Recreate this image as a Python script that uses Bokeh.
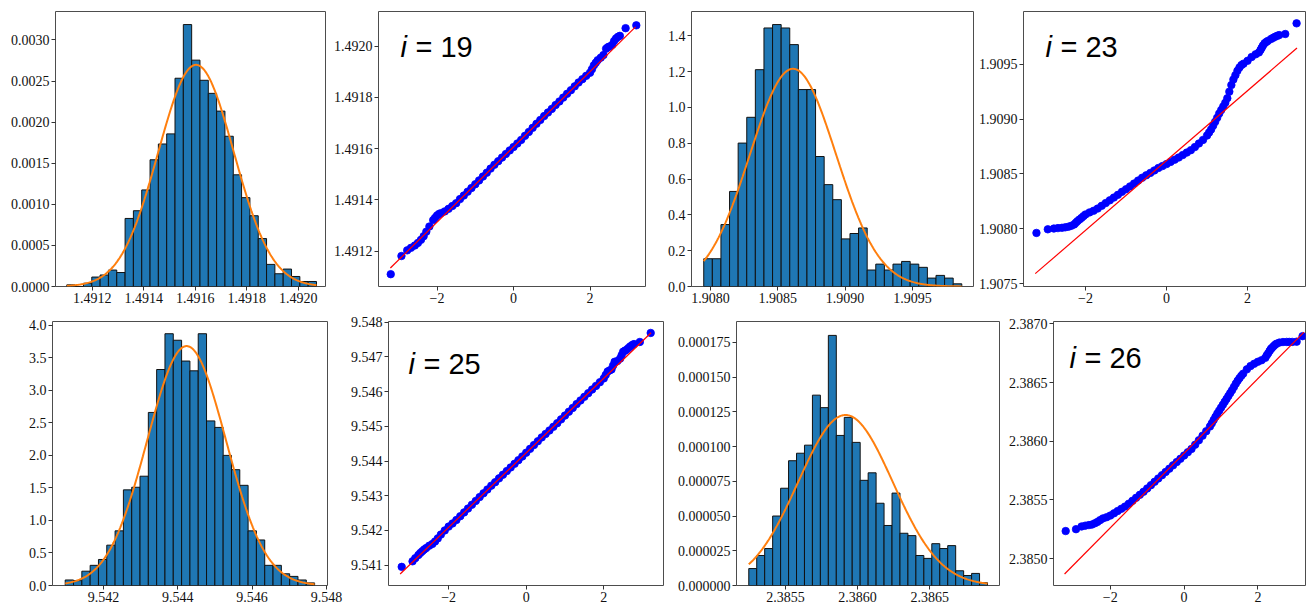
import numpy as np
from bokeh.plotting import figure
from bokeh.layouts import column, row
from bokeh.models import Range1d, FixedTicker, NumeralTickFormatter, Label, ColumnDataSource
from bokeh.embed import file_html
from bokeh.resources import INLINE

# ---------------- data ----------------
# theoretical normal quantiles (x of every Q-Q panel)
theoretical_q = [-3.21, -2.93, -2.78, -2.68, -2.58, -2.50, -2.42, -2.35, -2.28, -2.20, -2.10,
                 -2.0, -1.9, -1.8, -1.7, -1.6, -1.5, -1.4, -1.3, -1.2, -1.1, -1.0,
                 -0.9, -0.8, -0.7, -0.6, -0.5, -0.4, -0.3, -0.2, -0.1, 0.0,
                 0.1, 0.2, 0.3, 0.4, 0.5, 0.6, 0.7, 0.8, 0.9, 1.0,
                 1.1, 1.2, 1.3, 1.4, 1.5, 1.6, 1.7, 1.8, 1.9, 2.0,
                 2.10, 2.20, 2.28, 2.35, 2.42, 2.50, 2.58, 2.68, 2.78, 2.93, 3.21]

# ---- i = 19 ----
hist19_range = [1.491101, 1.492071]
hist19_heights = [0.000020, 0.0, 0.000040, 0.000115, 0.000140, 0.000200, 0.000170, 0.000828,
                  0.000922, 0.001175, 0.001542, 0.001734, 0.001857, 0.002534, 0.003187, 0.002754,
                  0.002509, 0.002350, 0.002134, 0.001828, 0.001359, 0.001081, 0.000861, 0.000583,
                  0.000269, 0.000155, 0.000212, 0.000122, 0.000061, 0.000061]
fit19 = {"mu": 1.491603, "sigma": 0.0001467, "peak": 0.002697}
qq19_sample = [1.491110, 1.491181, 1.491203, 1.491213, 1.491222, 1.491232, 1.491244, 1.491258,
               1.491276, 1.491296, 1.491321,
               1.491339, 1.491348, 1.491355, 1.491365, 1.491376, 1.491387, 1.491403, 1.491417,
               1.491432, 1.491446, 1.491461, 1.491476, 1.491491, 1.491506, 1.491522, 1.491537,
               1.491551, 1.491565, 1.491579, 1.491593, 1.491606, 1.491620, 1.491634, 1.491650,
               1.491665, 1.491681, 1.491697, 1.491712, 1.491727, 1.491741, 1.491755, 1.491770,
               1.491784, 1.491799, 1.491814, 1.491828, 1.491843, 1.491858, 1.491871, 1.491884,
               1.491896,
               1.491925, 1.491945, 1.491955, 1.491965, 1.491990, 1.491998, 1.492005, 1.492030,
               1.492040, 1.492070, 1.492081]
qq19_extra_q = [-2.05, -1.95, 2.05, 2.15, 2.46, 2.63, 2.73]
qq19_extra_y = [1.491330, 1.491345, 1.491910, 1.491935, 1.491995, 1.492020, 1.492036]
qq19_line_q = [-3.22, 3.19]
qq19_line_y = [1.491134, 1.492075]

# ---- i = 23 ----
hist23_range = [1.907950, 1.909867]
hist23_heights = [0.155, 0.155, 0.346, 0.531, 0.801, 0.945, 1.211, 1.444, 1.463, 1.444,
                  1.351, 1.100, 1.100, 0.726, 0.569, 0.485, 0.266, 0.296, 0.327, 0.092,
                  0.125, 0.092, 0.125, 0.140, 0.125, 0.107, 0.047, 0.062, 0.047, 0.015]
fit23 = {"mu": 1.908613, "sigma": 0.000320, "peak": 1.216}
qq23_sample = [1.907963, 1.907996, 1.908003, 1.908007, 1.908010, 1.908014, 1.908020, 1.908028,
               1.908040, 1.908070, 1.908100,
               1.908131, 1.908150, 1.908165, 1.908185, 1.908210, 1.908235, 1.908260, 1.908285,
               1.908310, 1.908337, 1.908361, 1.908387, 1.908413, 1.908440, 1.908466, 1.908488,
               1.908510, 1.908532, 1.908555, 1.908572, 1.908590, 1.908610, 1.908630, 1.908650,
               1.908672, 1.908695, 1.908717, 1.908745, 1.908778, 1.908810, 1.908850, 1.908905,
               1.908975, 1.909050, 1.909115, 1.909190, 1.909310, 1.909400, 1.909470, 1.909505,
               1.909531,
               1.909565, 1.909590, 1.909607, 1.909650, 1.909690, 1.909712, 1.909730, 1.909750,
               1.909765, 1.909775, 1.909872]
qq23_extra_q = [-2.24, -2.15, -2.05, 1.05, 1.15, 1.25, 1.35, 1.45, 1.55, 1.65, 1.75, 1.85,
                2.32, 2.38, 2.46, 2.63, 2.73]
qq23_extra_y = [1.908055, 1.908085, 1.908116, 1.908877, 1.908940, 1.909012, 1.909083, 1.909148,
                1.909250, 1.909360, 1.909440, 1.909492, 1.909630, 1.909670, 1.909702, 1.909740,
                1.909758]
qq23_line_q = [-3.24, 3.22]
qq23_line_y = [1.907592, 1.909647]

# ---- i = 25 ----
hist25_range = [9.540972, 9.547683]
hist25_heights = [0.085, 0.075, 0.22, 0.31, 0.40, 0.62, 0.84, 1.47, 1.51, 1.68,
                  2.66, 3.32, 3.87, 3.77, 3.45, 3.30, 3.87, 2.53, 2.43, 2.00,
                  1.78, 1.54, 0.84, 0.70, 0.31, 0.31, 0.18, 0.14, 0.085, 0.04]
fit25 = {"mu": 9.544239, "sigma": 0.00106, "peak": 3.68}
qq25_sample = [9.540950, 9.541110, 9.541290, 9.541400, 9.541490, 9.541560, 9.541610, 9.541680,
               9.541770, 9.541880, 9.542000,
               9.542110, 9.542200, 9.542300, 9.542410, 9.542520, 9.542630, 9.542740, 9.542850,
               9.542960, 9.543070, 9.543180, 9.543290, 9.543390, 9.543500, 9.543605, 9.543710,
               9.543815, 9.543920, 9.544025, 9.544130, 9.544240, 9.544350, 9.544460, 9.544570,
               9.544680, 9.544780, 9.544880, 9.544985, 9.545090, 9.545200, 9.545310, 9.545420,
               9.545530, 9.545640, 9.545745, 9.545850, 9.545955, 9.546060, 9.546165, 9.546270,
               9.546380,
               9.546580, 9.546640, 9.546860, 9.546880, 9.546950, 9.547150, 9.547200, 9.547300,
               9.547370, 9.547430, 9.547690]
qq25_extra_q = [-2.86, -2.73, -2.63, 2.05, 2.15, 2.24, 2.46, 2.54, 2.63, 2.73]
qq25_extra_y = [9.541200, 9.541350, 9.541450, 9.546480, 9.546610, 9.546750, 9.547050, 9.547175,
                9.547250, 9.547340]
qq25_line_q = [-3.25, 3.22]
qq25_line_y = [9.540745, 9.547695]

# ---- i = 26 ----
hist26_range = [2.385246, 2.386900]
hist26_heights = [0.0000122, 0.0000216, 0.0000266, 0.0000500, 0.0000700, 0.0000898, 0.0000952,
                  0.0001010, 0.0001370, 0.0001280, 0.0001800, 0.0001080, 0.0001210, 0.0001030,
                  0.0000757, 0.0000811, 0.0000592, 0.0000432, 0.0000665, 0.0000376, 0.0000359,
                  0.0000216, 0.0000195, 0.0000301, 0.0000266, 0.0000287, 0.0000106, 0.0000072,
                  0.0000087, 0.0000020]
fit26 = {"mu": 2.385916, "sigma": 0.000328, "peak": 0.0001227}
qq26_sample = [2.385234, 2.385250, 2.385273, 2.385280, 2.385285, 2.385289, 2.385300, 2.385312,
               2.385327, 2.385342, 2.385352,
               2.385366, 2.385385, 2.385405, 2.385424, 2.385443, 2.385467, 2.385492, 2.385518,
               2.385543, 2.385569, 2.385597, 2.385625, 2.385654, 2.385682, 2.385710, 2.385738,
               2.385766, 2.385794, 2.385822, 2.385850, 2.385878, 2.385906, 2.385934, 2.385970,
               2.386008, 2.386047, 2.386085, 2.386125, 2.386180, 2.386235, 2.386285, 2.386335,
               2.386385, 2.386435, 2.386490, 2.386537, 2.386575, 2.386612, 2.386640, 2.386660,
               2.386677,
               2.386690, 2.386710, 2.386750, 2.386785, 2.386808, 2.386830, 2.386840, 2.386845,
               2.386846, 2.386846, 2.386895]
qq26_extra_q = [0.75, 0.85, 0.95, 1.05, 1.15, 1.25, 1.35, 1.45, 1.55, 2.24, 2.32, 2.38, 2.46,
                2.85, 3.05]
qq26_extra_y = [2.386152, 2.386208, 2.386260, 2.386310, 2.386360, 2.386410, 2.386462, 2.386515,
                2.386557, 2.386732, 2.386770, 2.386795, 2.386820, 2.386846, 2.386848]
qq26_line_q = [-3.24, 3.25]
qq26_line_y = [2.384868, 2.386930]

# tick values / labels
qq_xticks = [-2.0, 0.0, 2.0]
qq_xlabels = ["\u22122", "0", "2"]
h19_xticks = [1.4912, 1.4914, 1.4916, 1.4918, 1.4920]
h19_yticks = [0.0, 0.0005, 0.0010, 0.0015, 0.0020, 0.0025, 0.0030]
q19_yticks = [1.4912, 1.4914, 1.4916, 1.4918, 1.4920]
h23_xticks = [1.9080, 1.9085, 1.9090, 1.9095]
h23_yticks = [0.0, 0.2, 0.4, 0.6, 0.8, 1.0, 1.2, 1.4]
q23_yticks = [1.9075, 1.9080, 1.9085, 1.9090, 1.9095]
h25_xticks = [9.542, 9.544, 9.546, 9.548]
h25_yticks = [0.0, 0.5, 1.0, 1.5, 2.0, 2.5, 3.0, 3.5, 4.0]
q25_yticks = [9.541, 9.542, 9.543, 9.544, 9.545, 9.546, 9.547, 9.548]
h26_xticks = [2.3855, 2.3860, 2.3865]
h26_yticks = [0.0, 0.000025, 0.000050, 0.000075, 0.000100, 0.000125, 0.000150, 0.000175]
q26_yticks = [2.3850, 2.3855, 2.3860, 2.3865, 2.3870]

SERIF = "Liberation Serif"


def make_panel(xr, yr, dims):
    fw, fh, bl, br, bt, bb = dims
    p = figure(frame_width=fw, frame_height=fh,
               x_range=Range1d(xr[0], xr[1]), y_range=Range1d(yr[0], yr[1]),
               min_border_left=bl, min_border_right=br, min_border_top=bt, min_border_bottom=bb,
               output_backend="svg", toolbar_location=None, tools="")
    p.xgrid.visible = False
    p.ygrid.visible = False
    p.outline_line_color = "#4d4d4d"
    p.outline_line_width = 1
    p.outline_line_alpha = 1.0
    for ax in (p.xaxis[0], p.yaxis[0]):
        ax.axis_line_color = None
        ax.major_tick_in = 0
        ax.major_tick_out = 4
        ax.major_tick_line_color = "#333333"
        ax.minor_tick_line_color = None
        ax.major_label_text_font = SERIF
        ax.major_label_text_font_size = "14px"
        ax.major_label_text_color = "#111111"
        ax.major_label_standoff = 2
    return p


def hist_panel(rng, heights, fit, xr, yr, xticks, xfmt, yticks, yfmt, dims):
    p = make_panel(xr, yr, dims)
    edges = np.linspace(rng[0], rng[1], len(heights) + 1)
    src = ColumnDataSource(dict(left=edges[:-1], right=edges[1:], top=heights))
    p.quad(left="left", right="right", bottom=0, top="top", source=src,
           fill_color="#1f77b4", line_color="#111111", line_width=1)
    xs = np.linspace(rng[0], rng[1], 300)
    ys = fit["peak"] * np.exp(-0.5 * ((xs - fit["mu"]) / fit["sigma"]) ** 2)
    p.line(xs, ys, line_color="#ff7f0e", line_width=2)
    p.xaxis.ticker = FixedTicker(ticks=xticks)
    p.xaxis.formatter = NumeralTickFormatter(format=xfmt)
    p.yaxis.ticker = FixedTicker(ticks=yticks)
    p.yaxis.formatter = NumeralTickFormatter(format=yfmt)
    return p


def qq_panel(sample, extra_q, extra_y, line_q, line_y, tag, tag_pos, xr, yr, yticks, yfmt, dims):
    p = make_panel(xr, yr, dims)
    pts_q = list(theoretical_q) + list(extra_q)
    pts_y = list(sample) + list(extra_y)
    p.scatter(pts_q, pts_y, size=7.5, fill_color="blue", line_color="blue", line_width=0.8)
    p.line(line_q, line_y, line_color="red", line_width=1.2)
    p.xaxis.ticker = FixedTicker(ticks=qq_xticks)
    p.xaxis.major_label_overrides = dict(zip(qq_xticks, qq_xlabels))
    p.yaxis.ticker = FixedTicker(ticks=yticks)
    p.yaxis.formatter = NumeralTickFormatter(format=yfmt)
    fh = dims[1]
    p.add_layout(Label(x=tag_pos[0], y=fh - tag_pos[1], x_units="screen", y_units="screen",
                       text="i", text_font="Liberation Sans", text_font_style="italic",
                       text_font_size="29px", text_color="black", text_baseline="alphabetic"))
    p.add_layout(Label(x=tag_pos[0] + 15, y=fh - tag_pos[1], x_units="screen", y_units="screen",
                       text="= " + tag, text_font="Liberation Sans",
                       text_font_size="29px", text_color="black", text_baseline="alphabetic"))
    return p


# (frame_w, frame_h, border_left, border_right, border_top, border_bottom)
p1 = hist_panel(hist19_range, hist19_heights, fit19, [1.491057, 1.492106], [0, 0.003346],
                h19_xticks, "0.0000", h19_yticks, "0.0000", (270, 275, 55, 5, 11, 26))
p2 = qq_panel(qq19_sample, qq19_extra_q, qq19_extra_y, qq19_line_q, qq19_line_y, "19", (22, 35),
              [-3.53, 3.45], [1.491062, 1.492135], q19_yticks, "0.0000", (267, 275, 48, 4, 11, 26))
p3 = hist_panel(hist23_range, hist23_heights, fit23, [1.907859, 1.909954], [0, 1.536],
                h23_xticks, "0.0000", h23_yticks, "0.0", (282, 275, 42, 2, 11, 26))
p4 = qq_panel(qq23_sample, qq23_extra_q, qq23_extra_y, qq23_line_q, qq23_line_y, "23", (22, 35),
              [-3.53, 3.43], [1.907475, 1.909980], q23_yticks, "0.0000", (282, 275, 48, 1, 11, 26))

p5 = hist_panel(hist25_range, hist25_heights, fit25, [9.54063, 9.54803], [0, 4.058],
                h25_xticks, "0.000", h25_yticks, "0.0", (275, 264, 52, 20, 9, 21))
p6 = qq_panel(qq25_sample, qq25_extra_q, qq25_extra_y, qq25_line_q, qq25_line_y, "25", (20, 42),
              [-3.55, 3.54], [9.540413, 9.548020], q25_yticks, "0.000", (275, 264, 41, 4, 9, 21))
p7 = hist_panel(hist26_range, hist26_heights, fit26, [2.385161, 2.386983], [0, 0.000190],
                h26_xticks, "0.0000", h26_yticks, "0.000000", (263, 264, 69, 4, 9, 21))
p8 = qq_panel(qq26_sample, qq26_extra_q, qq26_extra_y, qq26_line_q, qq26_line_y, "26", (16, 36),
              [-3.54, 3.29], [2.384770, 2.387020], q26_yticks, "0.0000", (252, 264, 50, 1, 9, 21))

layout = column(row(p1, p2, p3, p4), row(p5, p6, p7, p8))

open("out.html", "w").write(file_html(layout, INLINE))
